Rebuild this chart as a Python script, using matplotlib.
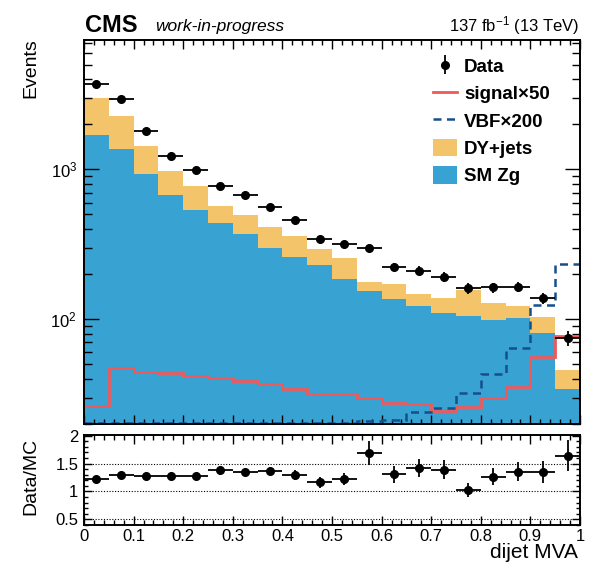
import numpy as np
import matplotlib
matplotlib.use('Agg')
import matplotlib.pyplot as plt
from matplotlib.ticker import MultipleLocator, LogLocator, FuncFormatter, NullFormatter, FixedLocator
from matplotlib.lines import Line2D
from matplotlib.patches import Patch

plt.rcParams['font.family'] = ['Liberation Sans', 'DejaVu Sans']
plt.rcParams['mathtext.fontset'] = 'custom'
plt.rcParams['mathtext.rm'] = 'Liberation Sans'
plt.rcParams['mathtext.it'] = 'Liberation Sans:italic'
plt.rcParams['mathtext.bf'] = 'Liberation Sans:bold'
plt.rcParams['mathtext.default'] = 'regular'

# ---------------- data ----------------
bin_edges = [0.0, 0.05, 0.1, 0.15, 0.2, 0.25, 0.3, 0.35, 0.4, 0.45, 0.5,
             0.55, 0.6, 0.65, 0.7, 0.75, 0.8, 0.85, 0.9, 0.95, 1.0]
sm_zg = [1686, 1360, 926, 678, 533, 441, 370, 298, 260, 229,
         185, 154, 136, 123, 110, 105, 98.5, 102, 81.5, 34.3]
dy_jets = [1320, 905, 497, 292, 237, 126, 129, 112, 97, 65,
           73, 22, 35, 25, 28, 52, 30.5, 20, 21.5, 11.4]
data = [3690, 2935, 1805, 1230, 985, 780, 670, 560, 462, 343,
        316, 297, 224, 211, 192, 161, 163, 165, 139, 75]
signal_x50 = [26.4, 47.1, 44.3, 43.8, 41.7, 40.3, 38.8, 36.7, 34.5, 31.8,
              31.5, 29.8, 27.7, 27.1, 24.4, 26.0, 29.6, 35.4, 56.1, 77.8]
vbf_x200 = [3, 4, 5, 6, 7, 8, 10, 12, 14, 16,
            19, 21, 21.4, 24, 25.5, 32.3, 42.8, 63.8, 124, 232]
ratio_err = [0.03, 0.03, 0.035, 0.04, 0.045, 0.08, 0.06, 0.08, 0.095, 0.10,
             0.11, 0.21, 0.15, 0.16, 0.17, 0.125, 0.15, 0.17, 0.19, 0.28]

# ---------------- colours ----------------
c_dy = '#F3C46A'
c_sm = '#38A2D2'
c_sig = '#EE5A5A'
c_vbf = '#164F8C'

W, H = 594, 568
fig = plt.figure(figsize=(W / 100, H / 100), dpi=100)


def fx(px):
    return px / W


def fy(py):
    return 1 - py / H


edges = np.array(bin_edges)
centers = 0.5 * (edges[:-1] + edges[1:])
halfw = 0.5 * (edges[1:] - edges[:-1])
sm = np.array(sm_zg)
dy = np.array(dy_jets)
total = sm + dy
dat = np.array(data, dtype=float)
ymin, ymax = 20, 7300

ax = fig.add_axes([fx(84), fy(424), (580 - 84) / W, (424 - 40) / H])
rax = fig.add_axes([fx(84), fy(525), (580 - 84) / W, (525 - 435) / H])

# stack
ax.stairs(total, edges, fill=True, color=c_dy, baseline=1e-2, zorder=1)
ax.stairs(sm, edges, fill=True, color=c_sm, baseline=1e-2, zorder=1.1)
# signal lines
ax.stairs(signal_x50, edges, color=c_sig, lw=2.0, baseline=None, zorder=2)
ax.stairs(np.clip(vbf_x200, ymin * 1.01, None), edges, color=c_vbf, lw=1.8,
          baseline=None, linestyle=(0, (3.2, 2.2)), zorder=2)
# data
ax.errorbar(centers, dat, xerr=halfw, yerr=np.sqrt(dat), fmt='o', color='black',
            ms=5.5, lw=1.3, capsize=0, zorder=3)

ax.set_yscale('log')
ax.set_xlim(0, 1)
ax.set_ylim(ymin, ymax)
ax.xaxis.set_major_locator(MultipleLocator(0.1))
ax.xaxis.set_minor_locator(MultipleLocator(0.02))
ax.yaxis.set_major_locator(LogLocator(base=10, numticks=10))
ax.yaxis.set_minor_locator(LogLocator(base=10, subs=np.arange(2, 10), numticks=20))
ax.yaxis.set_minor_formatter(NullFormatter())
ax.tick_params(which='both', direction='in', top=True, right=True,
               labelbottom=False, labelsize=12, width=1.0)
ax.tick_params(axis='y', which='major', length=11, pad=5)
ax.tick_params(axis='y', which='minor', length=5.5)
ax.tick_params(axis='x', which='major', length=6.5)
ax.tick_params(axis='x', which='minor', length=3.5)
for s in ax.spines.values():
    s.set_linewidth(1.4)

# legend
h_data = ax.errorbar([], [], yerr=[], fmt='o', color='black', ms=5.5, lw=1.3)
handles = [h_data,
           Line2D([], [], color=c_sig, lw=2.0),
           Line2D([], [], color=c_vbf, lw=1.8, linestyle=(0, (3.2, 2.2))),
           Patch(facecolor=c_dy, edgecolor='none'),
           Patch(facecolor=c_sm, edgecolor='none')]
labels = ['Data', 'signal×50', 'VBF×200', 'DY+jets', 'SM Zg']
ax.legend(handles, labels, loc='upper left',
          bbox_to_anchor=(fx(433), fy(57)), bbox_transform=fig.transFigure,
          frameon=False, prop={'weight': 'bold', 'size': 13.5},
          handlelength=1.3, handleheight=1.05, handletextpad=0.35,
          labelspacing=0.44, borderpad=0, borderaxespad=0)

# ratio
ratio = dat / total
for yv in [0.5, 1.0, 1.5]:
    rax.axhline(yv, color='black', lw=0.8, linestyle=(0, (1, 1.5)), zorder=1)
rax.errorbar(centers, ratio, xerr=halfw, yerr=ratio_err, fmt='o', color='black',
             ms=5.5, lw=1.3, capsize=0, zorder=3)
rax.set_xlim(0, 1)
rax.set_ylim(0.4, 2.01)
rax.xaxis.set_major_locator(MultipleLocator(0.1))
rax.xaxis.set_minor_locator(MultipleLocator(0.02))
rax.yaxis.set_major_locator(FixedLocator([0.5, 1.0, 1.5, 2.0]))
rax.yaxis.set_minor_locator(MultipleLocator(0.1))
fmt = FuncFormatter(lambda v, p: '%g' % round(v, 3))
rax.xaxis.set_major_formatter(fmt)
rax.yaxis.set_major_formatter(fmt)
rax.tick_params(which='both', direction='in', top=True, right=True,
                labelsize=12, width=1.0)
rax.tick_params(axis='y', which='major', length=6, pad=4)
rax.tick_params(axis='y', which='minor', length=3)
rax.tick_params(axis='x', which='major', length=6.5, pad=3)
rax.tick_params(axis='x', which='minor', length=3.5)
for s in rax.spines.values():
    s.set_linewidth(1.4)

# texts
fig.text(fx(85), fy(32), 'CMS', fontsize=17, fontweight='bold', ha='left', va='baseline')
fig.text(fx(155), fy(31), 'work-in-progress', fontsize=12.5, style='italic', ha='left', va='baseline')
fig.text(fx(579), fy(31), r'137 fb$^{-1}$ (13 TeV)', fontsize=12, ha='right', va='baseline')
fig.text(fx(31), fy(38), 'Events', rotation=90, fontsize=14, ha='center', va='top')
fig.text(fx(31), fy(476), 'Data/MC', rotation=90, fontsize=14, ha='center', va='center')
fig.text(fx(578), fy(543), 'dijet MVA', fontsize=15, ha='right', va='top')

fig.savefig('out.png', dpi=100)
